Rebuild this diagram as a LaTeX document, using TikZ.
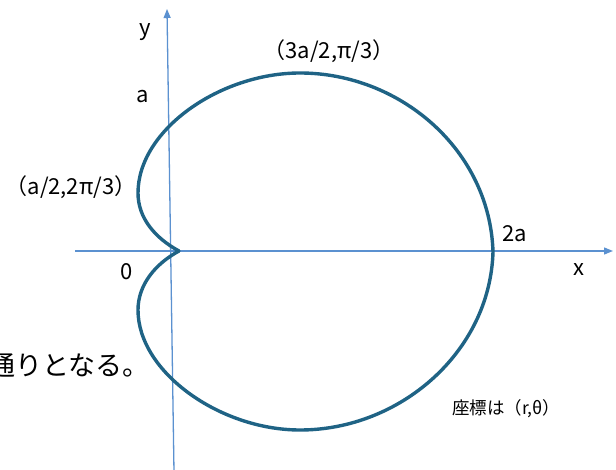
\documentclass[tikz,border=0pt]{standalone}
\usepackage{fontspec}
\setmainfont{Noto Sans CJK JP}
\usetikzlibrary{arrows.meta}
\definecolor{curvecol}{RGB}{31,99,133}
\definecolor{axiscol}{RGB}{91,145,208}
\tikzset{
  axisline/.style={draw=axiscol, line width=1.3pt, -{Triangle[length=9pt,width=7pt]}},
  curveline/.style={draw=curvecol, line width=3.4pt, line join=miter, line cap=round},
  lab/.style={inner sep=0pt, font=\fontsize{22}{24}\selectfont},
}
\begin{document}
\begin{tikzpicture}[x=1pt,y=-1pt]
\useasboundingbox (0,0) rectangle (616,470);
% axes
\coordinate (xs) at (75,251);
\coordinate (xe) at (613,251);
\coordinate (ys) at (174,472);
\coordinate (ye) at (167,9);
\draw[axisline] (xs) -- (xe);
\draw[axisline] (ys) -- (ye);
% curve
\coordinate (cusp) at (179,251);
\coordinate (lu) at (138,193);
\coordinate (top) at (300,73);
\coordinate (rt) at (493,252);
\coordinate (bot) at (300,430);
\coordinate (ll) at (138,310);
\draw[curveline] (cusp) .. controls (155,238) and (138,218) .. (lu)
  .. controls (138,130) and (220,73) .. (top)
  .. controls (400,73) and (490,150) .. (rt)
  .. controls (490,352) and (400,430) .. (bot)
  .. controls (220,430) and (138,372) .. (ll)
  .. controls (138,285) and (155,264) .. (cusp);
% labels
\node[lab] (ly) at (145,32) {y};
\node[lab] (la) at (143,97) {a};
\node[lab] (ltop) at (329,51) {（3a/2,π/3）};
\node[lab] (lleft) at (71,187) {（a/2,2π/3）};
\node[lab] (l2a) at (515,234) {2a};
\node[lab] (lx) at (579,270) {x};
\node[lab] (l0) at (127,272) {0};
\node[inner sep=0pt, anchor=east, font=\fontsize{27}{29}\selectfont] (ltext) at (150,365) {通りとなる。};
\node[inner sep=0pt, anchor=west, font=\fontsize{17.5}{19}\selectfont] (lcoord) at (452,409) {座標は（r,θ）};
\end{tikzpicture}
\end{document}
